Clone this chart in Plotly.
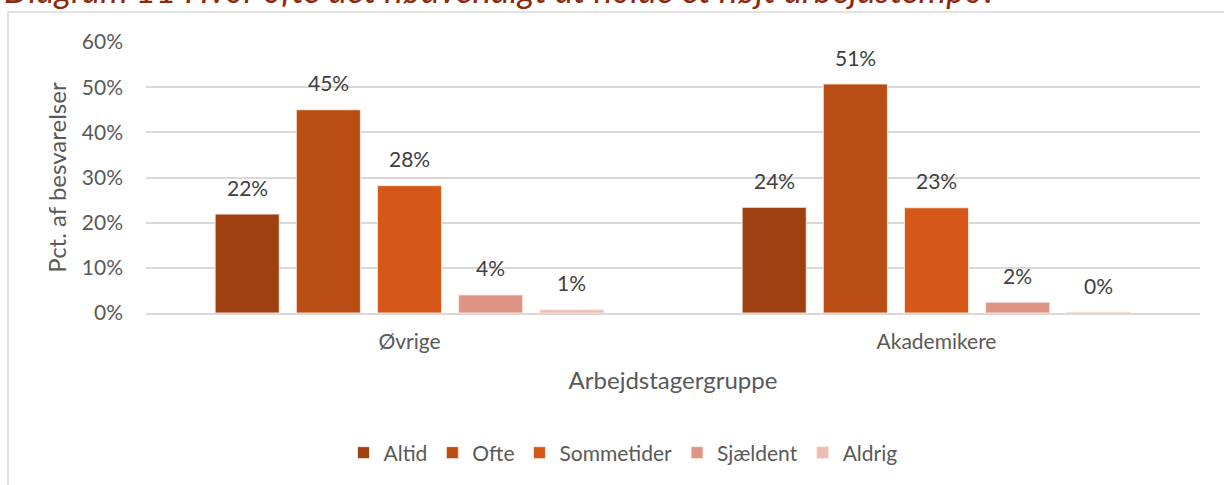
import plotly.graph_objects as go

categories = ["Øvrige", "Akademikere"]
series_names = ["Altid", "Ofte", "Sommetider", "Sjældent", "Aldrig"]
altid = [21.9, 23.4]
ofte = [45.0, 50.7]
sommetider = [28.2, 23.3]
sjaeldent = [4.0, 2.4]
aldrig = [0.7, 0.2]
labels_altid = ["22%", "24%"]
labels_ofte = ["45%", "51%"]
labels_sommetider = ["28%", "23%"]
labels_sjaeldent = ["4%", "2%"]
labels_aldrig = ["1%", "0%"]
y_ticks = [0, 10, 20, 30, 40, 50, 60]
y_tick_labels = ["0%", "10%", "20%", "30%", "40%", "50%", "60%"]
colors = ["#9E4012", "#B94D14", "#D55818", "#DF9586", "#EABEB5"]

values = [altid, ofte, sommetider, sjaeldent, aldrig]
labels = [labels_altid, labels_ofte, labels_sommetider, labels_sjaeldent, labels_aldrig]

FONT = "Lato"
W, H = 1224, 485
L, R, T, B = 146, 24, 42, 172
plot_h = H - T - B
plot_w = W - L - R

bargap = 0.23
bargroupgap = 0.21

fig = go.Figure()
for name, vals, col in zip(series_names, values, colors):
    fig.add_trace(go.Bar(
        name=name, x=categories, y=vals,
        marker=dict(color=col, line=dict(color="rgba(255,235,225,0.9)", width=1)),
    ))

# data labels above bars (positions derived from the grouped bar layout)
n = len(series_names)
slot = (1 - bargap) / n
annotations = []
for i, (vals, labs) in enumerate(zip(values, labels)):
    off = -0.5 * (1 - bargap) + (i + 0.5) * slot
    for c, (v, lab) in enumerate(zip(vals, labs)):
        annotations.append(dict(
            x=c + off, y=v, xref="x", yref="y", text=lab, showarrow=False,
            yanchor="middle", yshift=27,
            font=dict(family=FONT, size=21, color="#404040"),
        ))

# partially visible title at the very top
annotations.append(dict(
    x=(2 - L) / plot_w, xanchor="left", y=(H - B - 12) / plot_h, yref="paper", xref="paper",
    yanchor="bottom", showarrow=False,
    text="<i>Diagram 11 Hvor ofte det nødvendigt at holde et højt arbejdstempo?</i>",
    font=dict(family=FONT, size=35, color="#8B2A0E"),
))

fig.update_layout(
    width=W, height=H,
    margin=dict(l=L, r=R, t=T, b=B),
    paper_bgcolor="white", plot_bgcolor="white",
    barmode="group", bargap=bargap, bargroupgap=bargroupgap,
    font=dict(family=FONT, size=21, color="#595959"),
    showlegend=True,
    legend=dict(
        orientation="h", x=(623 - L) / plot_w, xanchor="center",
        y=(H - B - 453) / plot_h, yanchor="middle",
        font=dict(family=FONT, size=21, color="#595959"),
        itemwidth=30, tracegroupgap=0,
    ),
    annotations=annotations,
    shapes=[dict(
        type="rect", xref="paper", yref="paper",
        x0=(8 - L) / plot_w, x1=(W + 10 - L) / plot_w,
        y0=(H - B - (H + 10)) / plot_h, y1=(H - B - 12) / plot_h,
        line=dict(color="#D9D9D9", width=1.5), fillcolor="rgba(0,0,0,0)", layer="below",
    )],
)

fig.update_xaxes(
    showline=True, linecolor="#D9D9D9", linewidth=1.5,
    ticks="", ticklabelstandoff=9,
    tickfont=dict(family=FONT, size=21, color="#595959"),
    title=dict(text="Arbejdstagergruppe", font=dict(family=FONT, size=24, color="#595959"), standoff=20),
)
fig.update_yaxes(
    range=[0, 60], tickvals=y_ticks, ticktext=y_tick_labels,
    showgrid=True, gridcolor="#D9D9D9", gridwidth=1.5,
    zeroline=False, showline=False, ticks="", ticklabelstandoff=22,
    tickfont=dict(family=FONT, size=21, color="#595959"),
    title=dict(text="Pct. af besvarelser", font=dict(family=FONT, size=24, color="#595959"), standoff=8),
)

fig.write_html(
    "out.html",
    config={"displayModeBar": False},
    post_script="document.body.style.margin='0';document.body.style.overflow='hidden';",
)
